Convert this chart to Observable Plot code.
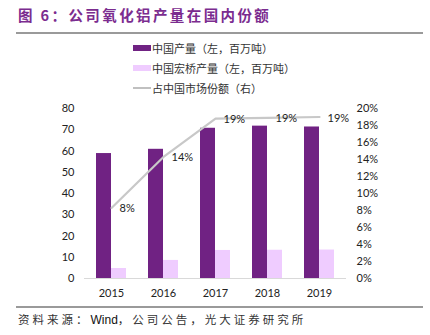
<!DOCTYPE html>
<html><head><meta charset="utf-8">
<script src="https://cdn.jsdelivr.net/npm/d3@7"></script>
<script src="https://cdn.jsdelivr.net/npm/@observablehq/plot@0.6"></script>
<style>
body{margin:0;width:430px;height:335px;background:#fff;position:relative;overflow:hidden;font-family:"Noto Sans CJK SC",sans-serif;}
#title{position:absolute;left:18px;top:4px;font-size:14.5px;font-weight:bold;color:#7B2C8F;letter-spacing:2.4px;white-space:nowrap;}
#rule1{position:absolute;left:16px;top:32px;width:407px;height:2px;background:#9a9a9a;}
#rule2{position:absolute;left:16px;top:306px;width:407px;height:2px;background:#9a9a9a;}
#foot{position:absolute;left:18px;top:311px;font-size:11.5px;color:#333;letter-spacing:3px;white-space:nowrap;}
#foot .w{font-family:"Liberation Sans",sans-serif;letter-spacing:0;font-size:12px;color:#111;}
.leg{position:absolute;left:133px;font-size:11px;color:#333;white-space:nowrap;display:flex;align-items:center;}
.sw{display:inline-block;width:18px;height:6px;margin-right:1px;}
.ln{display:inline-block;width:18px;height:1.5px;background:#c0c0c0;margin-right:1px;}
#chart{position:absolute;left:0;top:100px;}
</style></head>
<body>
<div id="title">图 6：公司氧化铝产量在国内份额</div>
<div id="rule1"></div>
<div id="legend"></div>
<div id="chart"></div>
<div id="rule2"></div>
<div id="foot">资料来源：<span class="w">Wind</span>，公司公告，光大证券研究所</div>
<script>
const years = ["2015","2016","2017","2018","2019"];
const chinaOutput = [58.8, 60.8, 70.7, 71.7, 71.3];
const hongqiaoOutput = [4.7, 8.5, 13.2, 13.3, 13.4];
const marketShare = [8.3, 14.3, 18.8, 18.9, 19.0];
const shareLabels = ["8%", "14%", "19%", "19%", "19%"];
const seriesNames = ["中国产量（左，百万吨）", "中国宏桥产量（左，百万吨）", "占中国市场份额（右）"];
const colors = ["#702283", "#EFCCFF", "#C8C8C8"];

const legend = document.getElementById("legend");
const tops = [40, 60, 80];
seriesNames.forEach((n, i) => {
  const d = document.createElement("div");
  d.className = "leg";
  d.style.top = tops[i] + "px";
  const s = document.createElement("span");
  if (i < 2) { s.className = "sw"; s.style.background = colors[i]; }
  else { s.className = "ln"; }
  d.appendChild(s);
  d.appendChild(document.createTextNode(n));
  legend.appendChild(d);
});

const rows = years.map((y, i) => ({year: y, china: chinaOutput[i], hq: hongqiaoOutput[i], share: marketShare[i], label: shareLabels[i]}));
const ratio = 80 / 20;
const numFont = "Lato, 'Liberation Sans', sans-serif";

const chart = Plot.plot({
  width: 430, height: 205,
  marginLeft: 84, marginRight: 84, marginTop: 8, marginBottom: 27,
  style: {fontFamily: numFont, fontSize: "11px", color: "#222", background: "transparent"},
  x: {type: "band", domain: years, paddingInner: 0.426, paddingOuter: 0.213, label: null},
  y: {domain: [0, 80], label: null},
  marks: [
    Plot.barY(rows, {x: "year", y: "china", fill: colors[0], insetRight: 15}),
    Plot.barY(rows, {x: "year", y: "hq", fill: colors[1], insetLeft: 15}),
    Plot.ruleY([0], {stroke: "#d9d9d9", strokeWidth: 1}),
    Plot.line(rows, {x: "year", y: d => d.share * ratio, stroke: colors[2], strokeWidth: 2.2}),
    Plot.text(rows, {x: "year", y: d => d.share * ratio, text: "label", textAnchor: "start", dx: 8, dy: 1, fill: "#222", fontSize: 11}),
    Plot.axisY({anchor: "left", ticks: d3.range(0, 81, 10), tickSize: 0, tickPadding: 10, label: null, fontSize: 11}),
    Plot.axisY({anchor: "right", ticks: d3.range(0, 81, 8), tickFormat: d => (d / ratio) + "%", tickSize: 0, tickPadding: 10, label: null, fontSize: 11}),
    Plot.axisX({tickSize: 0, tickPadding: 11, label: null, fontSize: 11})
  ]
});
document.getElementById("chart").appendChild(chart);
</script>
</body></html>
